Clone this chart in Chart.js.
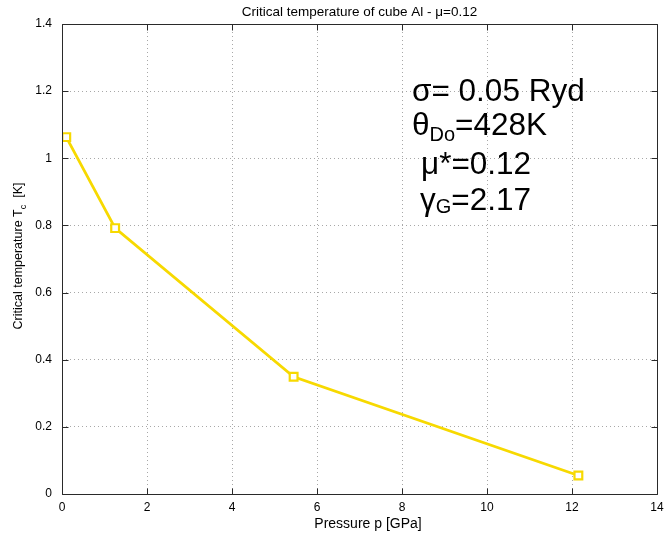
<!DOCTYPE html>
<html>
<head>
<meta charset="utf-8">
<title>Critical temperature of cube Al</title>
<script src="https://cdn.jsdelivr.net/npm/chart.js@4.4.1/dist/chart.umd.min.js"></script>
<style>
  html, body { margin: 0; padding: 0; background: #fff; }
  canvas { display: block; }
</style>
</head>
<body>
<canvas id="tcChart" width="665" height="535"></canvas>
<script>
// pressure [GPa] and critical temperature [K]
var pressure = [0.1, 1.25, 5.45, 12.15];
var tc = [1.063, 0.792, 0.349, 0.055];

var xTicks = [0, 2, 4, 6, 8, 10, 12, 14];
var yTicks = [0, 0.2, 0.4, 0.6, 0.8, 1, 1.2, 1.4];

var FONT = "'Liberation Sans', Arial, Helvetica, sans-serif";
var lineColor = '#f7d900';

// frame round the axes, with inward tick marks on all four sides
var frame = {
    id: 'frame',
    afterDraw: function (chart) {
        var ctx = chart.ctx;
        var a = chart.chartArea;
        var xs = chart.scales.x, ys = chart.scales.y;
        var L = Math.round(a.left) + 0.5, R = Math.round(a.right) + 0.5;
        var T = Math.round(a.top) + 0.5, B = Math.round(a.bottom) + 0.5;
        var tl = 6;
        ctx.save();
        ctx.strokeStyle = '#2a2a2a';
        ctx.lineWidth = 1;
        ctx.beginPath();
        ctx.rect(L, T, R - L, B - T);
        xTicks.forEach(function (v) {
            var px = Math.round(xs.getPixelForValue(v)) + 0.5;
            ctx.moveTo(px, B); ctx.lineTo(px, B - tl);
            ctx.moveTo(px, T); ctx.lineTo(px, T + tl);
        });
        yTicks.forEach(function (v) {
            var py = Math.round(ys.getPixelForValue(v)) + 0.5;
            ctx.moveTo(L, py); ctx.lineTo(L + tl, py);
            ctx.moveTo(R, py); ctx.lineTo(R - tl, py);
        });
        ctx.stroke();
        ctx.restore();
    }
};

// title, axis labels (with subscripts) and the parameter box
var texts = {
    id: 'texts',
    afterDraw: function (chart) {
        var ctx = chart.ctx;
        var a = chart.chartArea;
        ctx.save();
        ctx.fillStyle = '#000';
        ctx.textBaseline = 'alphabetic';

        ctx.font = '13.5px ' + FONT;
        ctx.textAlign = 'center';
        ctx.fillText('Critical temperature of cube Al - \u03bc=0.12', (a.left + a.right) / 2, 16);

        ctx.font = '14px ' + FONT;
        ctx.fillText('Pressure p [GPa]', 368, 528);

        // y label, rotated
        ctx.save();
        ctx.translate(22, 256);
        ctx.rotate(-Math.PI / 2);
        ctx.textAlign = 'left';
        var p1 = 'Critical temperature T', p2 = 'c', p3 = '  [K]';
        ctx.font = '12.5px ' + FONT;
        var w1 = ctx.measureText(p1).width, w3 = ctx.measureText(p3).width;
        ctx.font = '9px ' + FONT;
        var w2 = ctx.measureText(p2).width;
        var x0 = -(w1 + w2 + w3) / 2;
        ctx.font = '12.5px ' + FONT;
        ctx.fillText(p1, x0, 0);
        ctx.fillText(p3, x0 + w1 + w2, 0);
        ctx.font = '9px ' + FONT;
        ctx.fillText(p2, x0 + w1, 4);
        ctx.restore();

        // parameters
        ctx.textAlign = 'left';
        var big = '31.5px ' + FONT, small = '20px ' + FONT;
        function run(x, y, parts) {
            parts.forEach(function (p) {
                ctx.font = p[1] ? small : big;
                ctx.fillText(p[0], x, y + (p[1] || 0));
                x += ctx.measureText(p[0]).width;
            });
        }
        run(412, 101, [['\u03c3= 0.05 Ryd']]);
        run(412, 135, [['\u03b8'], ['Do', 6], ['=428K']]);
        run(421, 174, [['\u03bc*=0.12']]);
        run(420, 210, [['\u03b3'], ['G', 3], ['=2.17']]);
        ctx.restore();
    }
};

var ctx = document.getElementById('tcChart');
var tcChart = new Chart(ctx, {
    type: 'scatter',
    data: {
        datasets: [{
            label: 'Tc',
            data: pressure.map(function (p, i) { return { x: p, y: tc[i] }; }),
            showLine: true,
            borderColor: lineColor,
            borderWidth: 2.8,
            pointStyle: 'rect',
            pointRadius: 5.5,
            pointHoverRadius: 5.5,
            pointBorderWidth: 2.2,
            pointBorderColor: lineColor,
            pointBackgroundColor: '#fff'
        }]
    },
    plugins: [frame, texts],
    options: {
        responsive: false,
        devicePixelRatio: 1,
        animation: false,
        events: [],
        layout: { padding: { top: 24, right: 8, left: 0, bottom: 0 } },
        plugins: {
            legend: { display: false },
            title: { display: false },
            tooltip: { enabled: false }
        },
        scales: {
            x: {
                type: 'linear',
                min: 0,
                max: 14,
                afterBuildTicks: function (s) { s.ticks = xTicks.map(function (v) { return { value: v }; }); },
                afterFit: function (s) { s.height = 41; s.paddingLeft = 0; s.paddingRight = 0; },
                ticks: { color: '#000', font: { family: FONT, size: 12 }, padding: 6, maxRotation: 0 },
                grid: { color: '#a8a8a8', drawTicks: false },
                border: { display: false, dash: [1, 3] }
            },
            y: {
                type: 'linear',
                min: 0,
                max: 1.4,
                afterBuildTicks: function (s) { s.ticks = yTicks.map(function (v) { return { value: v }; }); },
                afterFit: function (s) { s.width = 62; s.paddingTop = 0; s.paddingBottom = 0; },
                ticks: {
                    color: '#000', font: { family: FONT, size: 12 }, padding: 10,
                    callback: function (v) { return String(+v.toFixed(1)); }
                },
                grid: { color: '#a8a8a8', drawTicks: false },
                border: { display: false, dash: [1, 3] }
            }
        }
    }
});
</script>
</body>
</html>
